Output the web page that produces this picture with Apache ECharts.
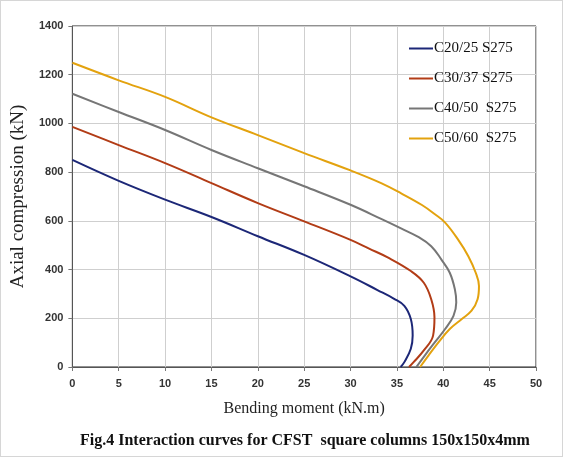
<!DOCTYPE html>
<html>
<head>
<meta charset="UTF-8">
<title>Interaction curves</title>
<script src="https://cdn.jsdelivr.net/npm/echarts@6/dist/echarts.min.js"></script>
<style>
  body { margin: 0; background: #fff; }
  #container { width: 563px; height: 457px; box-sizing: border-box; border: 1px solid #d6d6d6; }
</style>
</head>
<body>
<div id="container"></div>
<script type="text/javascript">
// bending moment (kN.m) and axial compression (kN)
var names = ['C20/25 S275', 'C30/37 S275', 'C40/50  S275', 'C50/60  S275'];
var colors = ['#1c2777', '#b23c16', '#767676', '#e3a20e'];

var m2025 = [0, 5, 10, 15, 20, 25, 30, 32.9, 34.7, 35.8, 36.5, 36.7, 36.5, 35.8, 35.4];
var n2025 = [850, 764, 687, 616, 537, 460, 372, 316, 280, 251, 197, 129, 75, 20, 0];

var m3037 = [0, 5, 10, 15, 20, 25, 30, 32, 34.0, 36.5, 37.9, 38.7, 39.05, 38.9, 37.9, 36.8, 36.3];
var n3037 = [986, 911, 837, 755, 673, 598, 522, 486, 450, 394, 346, 278, 204, 129, 68, 20, 0];

var m4050 = [0, 5, 10, 15, 20, 25, 30, 33.3, 35.5, 37.3, 38.7, 39.8, 40.7, 41.25, 41.4, 41.1, 40.2, 39.1, 38.0, 37.1];
var n4050 = [1122, 1047, 973, 891, 816, 742, 666, 608, 568, 534, 496, 441, 387, 319, 265, 210, 156, 102, 47, 0];

var m5060 = [0, 5, 10, 15, 20, 25, 30, 33.3, 35.5, 37.7, 39.1, 40.2, 41.6, 42.7, 43.5, 43.85, 43.7, 43.05, 42.0, 40.7, 39.5, 38.4, 37.5];
var n5060 = [1249, 1177, 1109, 1025, 952, 878, 807, 755, 712, 665, 627, 593, 523, 455, 387, 333, 278, 231, 197, 156, 102, 47, 0];

var curves = [[m2025, n2025], [m3037, n3037], [m4050, n4050], [m5060, n5060]];

function pairs(m, n) {
    var out = [];
    for (var i = 0; i < m.length; i++) out.push([m[i], n[i]]);
    return out;
}

var myChart = echarts.init(document.getElementById('container'));

var series = curves.map(function (c, i) {
    return {
        name: names[i],
        type: 'line',
        data: pairs(c[0], c[1]),
        smooth: 0.4,
        showSymbol: false,
        lineStyle: { color: colors[i], width: 2 },
        itemStyle: { color: colors[i] }
    };
});

var option = {
    animation: false,
    grid: {
        left: 71, right: 26, top: 25, bottom: 89,
        show: true, borderColor: '#222', borderWidth: 1
    },
    title: {
        text: 'Fig.4 Interaction curves for CFST  square columns 150x150x4mm',
        left: 74,
        top: 427,
        textStyle: { fontFamily: 'Liberation Serif', fontWeight: 'bold', fontSize: 16, color: '#111' }
    },
    legend: {
        orient: 'vertical',
        left: 403,
        top: 35,
        itemWidth: 24,
        itemHeight: 2,
        itemGap: 15,
        icon: 'rect',
        data: names,
        textStyle: { fontFamily: 'Liberation Serif', fontSize: 15, color: '#111', padding: [0, 0, 0, -4] }
    },
    xAxis: {
        type: 'value',
        min: 0, max: 50, interval: 5,
        name: 'Bending moment (kN.m)',
        nameLocation: 'middle',
        nameGap: 34,
        nameTextStyle: { fontFamily: 'Liberation Serif', fontSize: 16, color: '#222' },
        axisLine: { lineStyle: { color: '#555' } },
        axisTick: { show: true, length: 4, lineStyle: { color: '#777' } },
        axisLabel: { fontFamily: 'Liberation Sans', fontWeight: 'bold', fontSize: 11, color: '#333', margin: 11 },
        splitLine: { lineStyle: { color: '#cfcfcf' } }
    },
    yAxis: {
        type: 'value',
        min: 0, max: 1400, interval: 200,
        name: 'Axial compression (kN)',
        nameLocation: 'middle',
        nameGap: 39,
        nameTextStyle: { fontFamily: 'Liberation Serif', fontSize: 19, color: '#222' },
        axisLine: { show: true, lineStyle: { color: '#555' } },
        axisTick: { show: true, length: 4, lineStyle: { color: '#777' } },
        axisLabel: {
            fontFamily: 'Liberation Sans', fontWeight: 'bold', fontSize: 11, color: '#333', margin: 9,
            formatter: function (v) { return String(v); }
        },
        splitLine: { lineStyle: { color: '#cfcfcf' } }
    },
    series: series
};

myChart.setOption(option);
</script>
</body>
</html>
